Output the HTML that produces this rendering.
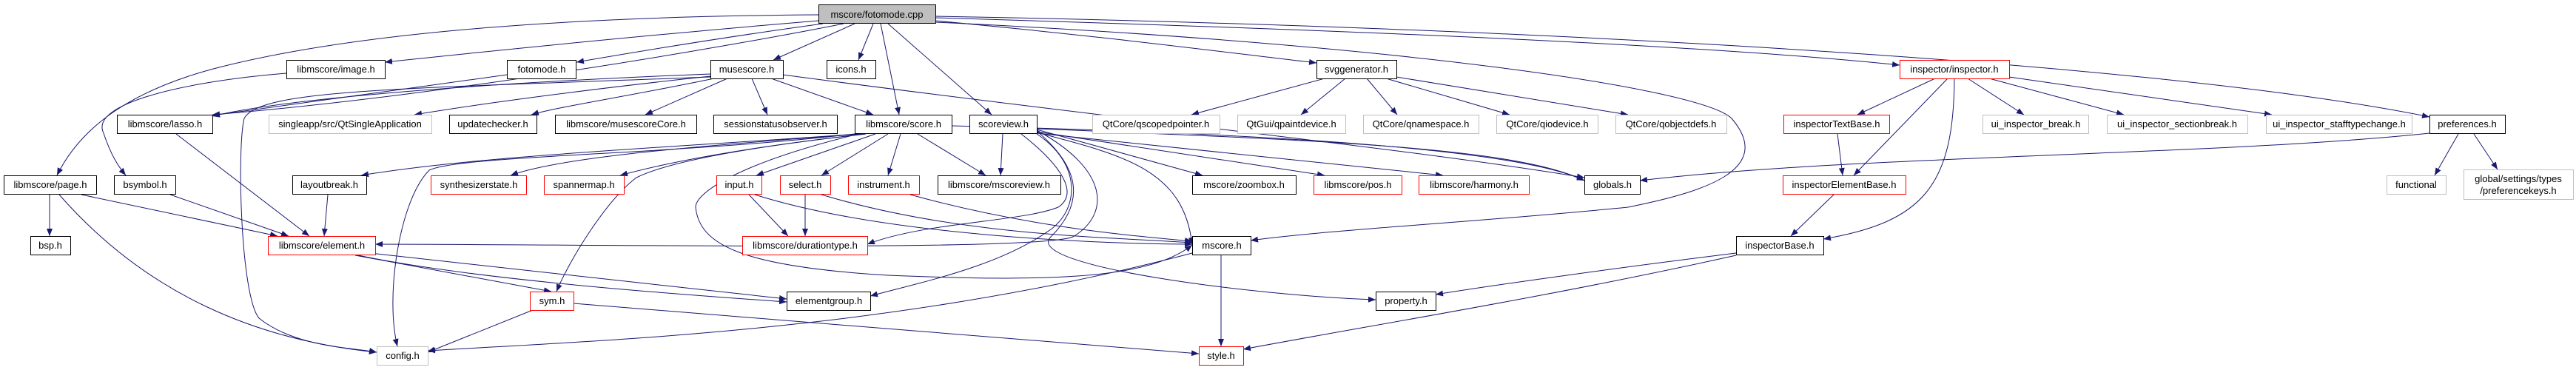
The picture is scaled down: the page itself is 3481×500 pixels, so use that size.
<!DOCTYPE html>
<html><head><meta charset="utf-8"><style>
html,body{margin:0;padding:0;background:#fff;}
svg{display:block;}
text{font-family:"Liberation Sans",sans-serif;font-size:13px;fill:#000;}
</style></head><body>
<svg width="3481" height="500" viewBox="0 0 3481 500" xmlns="http://www.w3.org/2000/svg">
<defs>
<marker id="a" viewBox="0 0 10 10" refX="10" refY="5" markerWidth="10" markerHeight="10" markerUnits="userSpaceOnUse" orient="auto">
<path d="M0,1 L10,5 L0,9 z" fill="#191970"/>
</marker>
</defs>
<g fill="none" stroke="#191970" stroke-width="1" marker-end="url(#a)">
<!-- from cpp -->
<path d="M1106,20 C800,22 500,40 300,90 C180,120 110,170 77,237"/>
<path d="M1106,28 C900,45 700,65 520,84"/>
<path d="M1112,32 C980,50 860,70 779,84"/>
<path d="M1140,32 C1000,60 600,130 287,155"/>
<path d="M1155,32 L1045,81"/>
<path d="M1180,32 L1160,81"/>
<path d="M1190,32 L1215,155"/>
<path d="M1200,32 L1340,155"/>
<path d="M1264,28 C1500,50 1650,70 1779,85"/>
<path d="M1264,24 C1800,40 2300,60 2567,88"/>
<path d="M1264,22 C2000,35 2900,80 3283,158"/>
<path d="M1264,30 C1900,60 2300,120 2340,160 C2400,230 2300,260 2200,280 C2000,300 1800,310 1690,325"/>
<!-- image.h -->
<path d="M387,99 C250,110 120,140 140,180 C150,210 160,225 170,237"/>
<!-- fotomode.h -->
<path d="M685,101 C550,120 400,140 287,156"/>
<!-- musescore.h -->
<path d="M960,100 C700,110 400,130 287,157"/>
<path d="M960,103 C800,120 650,140 560,155"/>
<path d="M965,106 C850,130 750,145 718,155"/>
<path d="M983,106 L872,155"/>
<path d="M1016,106 L1037,155"/>
<path d="M1042,106 L1180,155"/>
<path d="M1058,101 C1500,160 1900,200 2141,240"/>
<path d="M960,104 C550,120 350,120 330,160 C320,200 325,400 350,430 C400,470 480,470 509,476"/>
<!-- lasso -->
<path d="M238,181 L418,319"/>
<!-- singleapp none -->
<!-- score.h -->
<path d="M1160,181 C900,200 650,210 488,237"/>
<path d="M1165,181 C900,200 750,215 690,237"/>
<path d="M1170,181 C1000,200 900,220 838,237"/>
<path d="M1183,181 L1022,237"/>
<path d="M1200,181 L1110,237"/>
<path d="M1217,181 L1200,237"/>
<path d="M1240,181 L1332,237"/>
<path d="M1170,181 C1000,200 900,220 860,240 C820,270 770,350 752,394"/>
<path d="M1155,181 C900,210 620,210 580,230 C540,270 520,400 537,468"/>
<path d="M1160,181 C1000,220 940,260 940,280 C945,330 1000,360 1200,372 C1400,380 1550,380 1611,331"/>
<path d="M1286,170 C1700,180 2050,200 2141,244"/>
<!-- scoreview -->
<path d="M1355,181 L1352,237"/>
<path d="M1401,175 L1625,237"/>
<path d="M1401,178 L1790,237"/>
<path d="M1401,180 L1950,237"/>
<path d="M1401,174 C1800,190 2050,200 2141,244"/>
<path d="M1380,181 C1430,220 1460,260 1430,280 C1380,300 1250,300 1172,330"/>
<path d="M1401,181 C1460,220 1460,280 1420,310 C1350,360 1250,380 1176,400"/>
<path d="M1401,176 C1500,230 1500,290 1450,320 C1400,340 800,330 507,330"/>
<path d="M1401,179 C1520,210 1600,230 1611,331"/>
<path d="M1401,177 C1440,210 1480,260 1420,320 C1380,360 1700,400 1859,405"/>
<!-- svggenerator -->
<path d="M1790,106 L1610,155"/>
<path d="M1818,106 L1758,155"/>
<path d="M1847,106 L1888,155"/>
<path d="M1873,106 L2040,155"/>
<path d="M1887,104 L2200,155"/>
<!-- inspector -->
<path d="M2615,106 L2510,155"/>
<path d="M2632,106 L2505,237"/>
<path d="M2641,106 C2640,250 2600,300 2464,323"/>
<path d="M2659,106 L2735,155"/>
<path d="M2688,106 L2870,155"/>
<path d="M2715,104 L3070,155"/>
<!-- inspTextBase -->
<path d="M2483,181 L2490,237"/>
<!-- inspElementBase -->
<path d="M2478,263 L2420,319"/>
<!-- inspectorBase -->
<path d="M2346,342 C2200,360 2020,385 1940,398"/>
<path d="M2346,345 C2100,400 1850,440 1680,472"/>
<!-- preferences -->
<path d="M3283,180 C3000,210 2500,210 2216,244"/>
<path d="M3322,181 L3290,237"/>
<path d="M3343,181 L3375,229"/>
<!-- page.h -->
<path d="M67,263 L67,319"/>
<path d="M110,263 L375,319"/>
<path d="M80,263 C200,400 350,460 509,476"/>
<!-- bsymbol -->
<path d="M230,263 L390,319"/>
<!-- layoutbreak -->
<path d="M443,263 L438,319"/>
<!-- input / select / instrument -->
<path d="M1012,263 L1065,319"/>
<path d="M1020,263 C1200,320 1500,330 1611,330"/>
<path d="M1088,263 L1088,319"/>
<path d="M1110,263 C1300,320 1500,320 1611,328"/>
<path d="M1230,263 C1400,310 1550,320 1611,326"/>
<!-- element -->
<path d="M484,345 C650,380 950,400 1063,408"/>
<path d="M500,342 L1063,404"/>
<path d="M480,345 L745,394"/>
<!-- mscore.h -->
<path d="M1650,345 L1650,468"/>
<path d="M1611,342 C1200,450 800,460 578,474"/>
<!-- sym -->
<path d="M720,419 L578,476"/>
<path d="M775,410 L1620,478"/>
</g>
<g stroke-width="1">
<!-- root -->
<rect x="1106.5" y="6.5" width="158" height="25" fill="#bfbfbf" stroke="#000"/>
<text x="1185" y="24" text-anchor="middle">mscore/fotomode.cpp</text>
<!-- black nodes -->
<g fill="#fff" stroke="#000">
<rect x="387.5" y="81.5" width="133" height="25"/>
<rect x="685.5" y="81.5" width="93" height="25"/>
<rect x="960.5" y="81.5" width="98" height="25"/>
<rect x="1117.5" y="81.5" width="66" height="25"/>
<rect x="1779.5" y="81.5" width="108" height="25"/>
<rect x="158.5" y="155.5" width="129" height="25"/>
<rect x="607.5" y="155.5" width="118" height="25"/>
<rect x="750.5" y="155.5" width="191" height="25"/>
<rect x="964.5" y="155.5" width="167" height="25"/>
<rect x="1155.5" y="155.5" width="131" height="25"/>
<rect x="1310.5" y="155.5" width="91" height="25"/>
<rect x="3283.5" y="155.5" width="102" height="25"/>
<rect x="5.5" y="237.5" width="125" height="25"/>
<rect x="154.5" y="237.5" width="83" height="25"/>
<rect x="395.5" y="237.5" width="100" height="25"/>
<rect x="1267.5" y="237.5" width="166" height="25"/>
<rect x="1611.5" y="237.5" width="140" height="25"/>
<rect x="2141.5" y="237.5" width="75" height="25"/>
<rect x="41.5" y="319.5" width="54" height="25"/>
<rect x="1611.5" y="319.5" width="79" height="25"/>
<rect x="2346.5" y="319.5" width="118" height="25"/>
<rect x="1063.5" y="394.5" width="113" height="25"/>
<rect x="1859.5" y="394.5" width="81" height="25"/>
</g>
<!-- red nodes -->
<g fill="#fff" stroke="#ff0000">
<rect x="2567.5" y="81.5" width="148" height="25"/>
<rect x="2410.5" y="155.5" width="143" height="25"/>
<rect x="582.5" y="237.5" width="129" height="25"/>
<rect x="735.5" y="237.5" width="108" height="25"/>
<rect x="968.5" y="237.5" width="61" height="25"/>
<rect x="1054.5" y="237.5" width="68" height="25"/>
<rect x="1146.5" y="237.5" width="96" height="25"/>
<rect x="1775.5" y="237.5" width="119" height="25"/>
<rect x="1917.5" y="237.5" width="149" height="25"/>
<rect x="2409.5" y="237.5" width="166" height="25"/>
<rect x="362.5" y="319.5" width="145" height="25"/>
<rect x="1003.5" y="319.5" width="169" height="25"/>
<rect x="716.5" y="394.5" width="59" height="25"/>
<rect x="1620.5" y="468.5" width="60" height="25"/>
</g>
<!-- gray nodes -->
<g fill="#fff" stroke="#bfbfbf">
<rect x="363.5" y="155.5" width="220" height="25"/>
<rect x="1476.5" y="155.5" width="172" height="25"/>
<rect x="1672.5" y="155.5" width="146" height="25"/>
<rect x="1842.5" y="155.5" width="156" height="25"/>
<rect x="2022.5" y="155.5" width="137" height="25"/>
<rect x="2183.5" y="155.5" width="150" height="25"/>
<rect x="2679.5" y="155.5" width="143" height="25"/>
<rect x="2847.5" y="155.5" width="190" height="25"/>
<rect x="3062.5" y="155.5" width="197" height="25"/>
<rect x="3225.5" y="237.5" width="80" height="25"/>
<rect x="3329.5" y="229.5" width="148" height="40"/>
<rect x="509.5" y="468.5" width="69" height="25"/>
</g>
<text x="454" y="98" text-anchor="middle">libmscore/image.h</text>
<text x="732" y="98" text-anchor="middle">fotomode.h</text>
<text x="1009" y="98" text-anchor="middle">musescore.h</text>
<text x="1150" y="98" text-anchor="middle">icons.h</text>
<text x="1833" y="98" text-anchor="middle">svggenerator.h</text>
<text x="2641" y="98" text-anchor="middle">inspector/inspector.h</text>
<text x="223" y="172" text-anchor="middle">libmscore/lasso.h</text>
<text x="473" y="172" text-anchor="middle">singleapp/src/QtSingleApplication</text>
<text x="666" y="172" text-anchor="middle">updatechecker.h</text>
<text x="846" y="172" text-anchor="middle">libmscore/musescoreCore.h</text>
<text x="1048" y="172" text-anchor="middle">sessionstatusobserver.h</text>
<text x="1221" y="172" text-anchor="middle">libmscore/score.h</text>
<text x="1356" y="172" text-anchor="middle">scoreview.h</text>
<text x="1562" y="172" text-anchor="middle">QtCore/qscopedpointer.h</text>
<text x="1745" y="172" text-anchor="middle">QtGui/qpaintdevice.h</text>
<text x="1920" y="172" text-anchor="middle">QtCore/qnamespace.h</text>
<text x="2091" y="172" text-anchor="middle">QtCore/qiodevice.h</text>
<text x="2258" y="172" text-anchor="middle">QtCore/qobjectdefs.h</text>
<text x="2482" y="172" text-anchor="middle">inspectorTextBase.h</text>
<text x="2751" y="172" text-anchor="middle">ui_inspector_break.h</text>
<text x="2942" y="172" text-anchor="middle">ui_inspector_sectionbreak.h</text>
<text x="3161" y="172" text-anchor="middle">ui_inspector_stafftypechange.h</text>
<text x="3334" y="172" text-anchor="middle">preferences.h</text>
<text x="68" y="254" text-anchor="middle">libmscore/page.h</text>
<text x="196" y="254" text-anchor="middle">bsymbol.h</text>
<text x="445" y="254" text-anchor="middle">layoutbreak.h</text>
<text x="647" y="254" text-anchor="middle">synthesizerstate.h</text>
<text x="789" y="254" text-anchor="middle">spannermap.h</text>
<text x="999" y="254" text-anchor="middle">input.h</text>
<text x="1088" y="254" text-anchor="middle">select.h</text>
<text x="1194" y="254" text-anchor="middle">instrument.h</text>
<text x="1350" y="254" text-anchor="middle">libmscore/mscoreview.h</text>
<text x="1681" y="254" text-anchor="middle">mscore/zoombox.h</text>
<text x="1835" y="254" text-anchor="middle">libmscore/pos.h</text>
<text x="1992" y="254" text-anchor="middle">libmscore/harmony.h</text>
<text x="2179" y="254" text-anchor="middle">globals.h</text>
<text x="2492" y="254" text-anchor="middle">inspectorElementBase.h</text>
<text x="3265" y="254" text-anchor="middle">functional</text>
<text x="3403" y="246" text-anchor="middle">global/settings/types</text>
<text x="3403" y="262" text-anchor="middle">/preferencekeys.h</text>
<text x="68" y="336" text-anchor="middle">bsp.h</text>
<text x="435" y="336" text-anchor="middle">libmscore/element.h</text>
<text x="1088" y="336" text-anchor="middle">libmscore/durationtype.h</text>
<text x="1651" y="336" text-anchor="middle">mscore.h</text>
<text x="2405" y="336" text-anchor="middle">inspectorBase.h</text>
<text x="746" y="411" text-anchor="middle">sym.h</text>
<text x="1120" y="411" text-anchor="middle">elementgroup.h</text>
<text x="1900" y="411" text-anchor="middle">property.h</text>
<text x="544" y="485" text-anchor="middle">config.h</text>
<text x="1650" y="485" text-anchor="middle">style.h</text>
</g>
</svg>
</body></html>
